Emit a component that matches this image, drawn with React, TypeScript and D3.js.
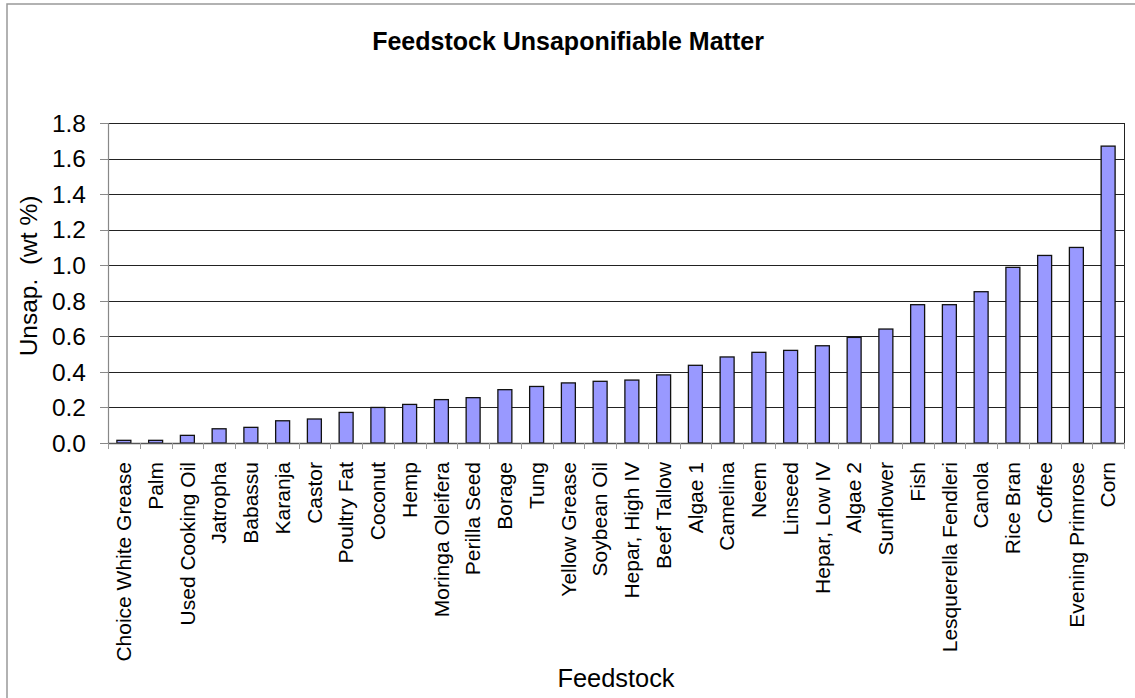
import React from "react";
import * as d3 from "d3";

const categories: string[] = [
  "Choice White Grease", "Palm", "Used Cooking Oil", "Jatropha", "Babassu", "Karanja",
  "Castor", "Poultry Fat", "Coconut", "Hemp", "Moringa Oleifera", "Perilla Seed",
  "Borage", "Tung", "Yellow Grease", "Soybean Oil", "Hepar, High IV", "Beef Tallow",
  "Algae 1", "Camelina", "Neem", "Linseed", "Hepar, Low IV", "Algae 2", "Sunflower",
  "Fish", "Lesquerella Fendleri", "Canola", "Rice Bran", "Coffee", "Evening Primrose", "Corn",
];

const values: number[] = [
  0.015, 0.015, 0.043, 0.08, 0.088, 0.125,
  0.135, 0.172, 0.2, 0.217, 0.244, 0.255,
  0.3, 0.318, 0.338, 0.347, 0.354, 0.383,
  0.437, 0.484, 0.51, 0.521, 0.547, 0.594, 0.641,
  0.778, 0.778, 0.851, 0.988, 1.055, 1.1, 1.67,
];

const yTicks: number[] = [0, 0.2, 0.4, 0.6, 0.8, 1.0, 1.2, 1.4, 1.6, 1.8];

const title = "Feedstock Unsaponifiable Matter";
const xTitle = "Feedstock";
const yTitle = "Unsap.  (wt %)";

const W = 1135;
const H = 698;
const left = 108;
const right = 1124;
const top = 123;
const bottom = 443;
const FONT = "'Liberation Sans', Arial, sans-serif";

export default function App() {
  const x = d3.scaleBand<string>().domain(categories).range([left, right]).paddingInner(0.56).paddingOuter(0.28);
  const xb = d3.scaleBand<string>().domain(categories).range([left, right]);
  const y = d3.scaleLinear().domain([0, 1.8]).range([bottom, top]);

  return (
    <svg width={W} height={H} style={{ position: "absolute", left: 0, top: 0, background: "#fff" }} fontFamily={FONT}>
      <rect x={0} y={0} width={W} height={H} fill="#fff" />
      <rect x={7} y={4} width={W + 10} height={H + 10} fill="none" stroke="#999" strokeWidth={1.5} />
      <text x={568} y={50} textAnchor="middle" fontSize={25} fontWeight="bold">{title}</text>

      {/* gridlines */}
      {yTicks.map((t) => (
        <line key={"g" + t} x1={left} x2={right} y1={Math.round(y(t)) + 0.5} y2={Math.round(y(t)) + 0.5} stroke="#222" strokeWidth={1} />
      ))}
      {/* right border */}
      <line x1={right + 0.5} x2={right + 0.5} y1={top} y2={bottom} stroke="#222" strokeWidth={1} />

      {/* bars */}
      {categories.map((c, i) => (
        <rect
          key={c}
          x={x(c)!}
          y={y(values[i])}
          width={x.bandwidth()}
          height={bottom - y(values[i])}
          fill="#9999FF"
          stroke="#111"
          strokeWidth={1.3}
        />
      ))}

      {/* y axis */}
      <line x1={left + 0.5} x2={left + 0.5} y1={top} y2={bottom + 0.5} stroke="#888" strokeWidth={1.2} />
      {yTicks.map((t) => (
        <g key={"t" + t}>
          <line x1={left - 8} x2={left} y1={Math.round(y(t)) + 0.5} y2={Math.round(y(t)) + 0.5} stroke="#888" strokeWidth={1} />
          <text x={86} y={y(t)} dy="0.36em" textAnchor="end" fontSize={24.5}>{t.toFixed(1)}</text>
        </g>
      ))}

      {/* x axis */}
      <line x1={left} x2={right + 1} y1={bottom + 0.5} y2={bottom + 0.5} stroke="#555" strokeWidth={1.5} />
      {categories.map((c) => (
        <line key={"xt" + c} x1={Math.round(xb(c)!) + 0.5} x2={Math.round(xb(c)!) + 0.5} y1={bottom} y2={bottom + 6} stroke="#999" strokeWidth={1} />
      ))}
      <line x1={right + 0.5} x2={right + 0.5} y1={bottom} y2={bottom + 6} stroke="#999" strokeWidth={1} />
      {categories.map((c) => (
        <text
          key={"xl" + c}
          transform={`translate(${xb(c)! + xb.bandwidth() / 2},462) rotate(-90)`}
          textAnchor="end"
          dy="0.35em"
          fontSize={21}
        >
          {c}
        </text>
      ))}

      <text x={(left + right) / 2} y={687} textAnchor="middle" fontSize={25.4}>{xTitle}</text>
      <text
        transform={`translate(37,276) rotate(-90)`}
        textAnchor="middle"
        fontSize={24.5}
        style={{ whiteSpace: "pre" }}
      >
        {yTitle}
      </text>
    </svg>
  );
}
